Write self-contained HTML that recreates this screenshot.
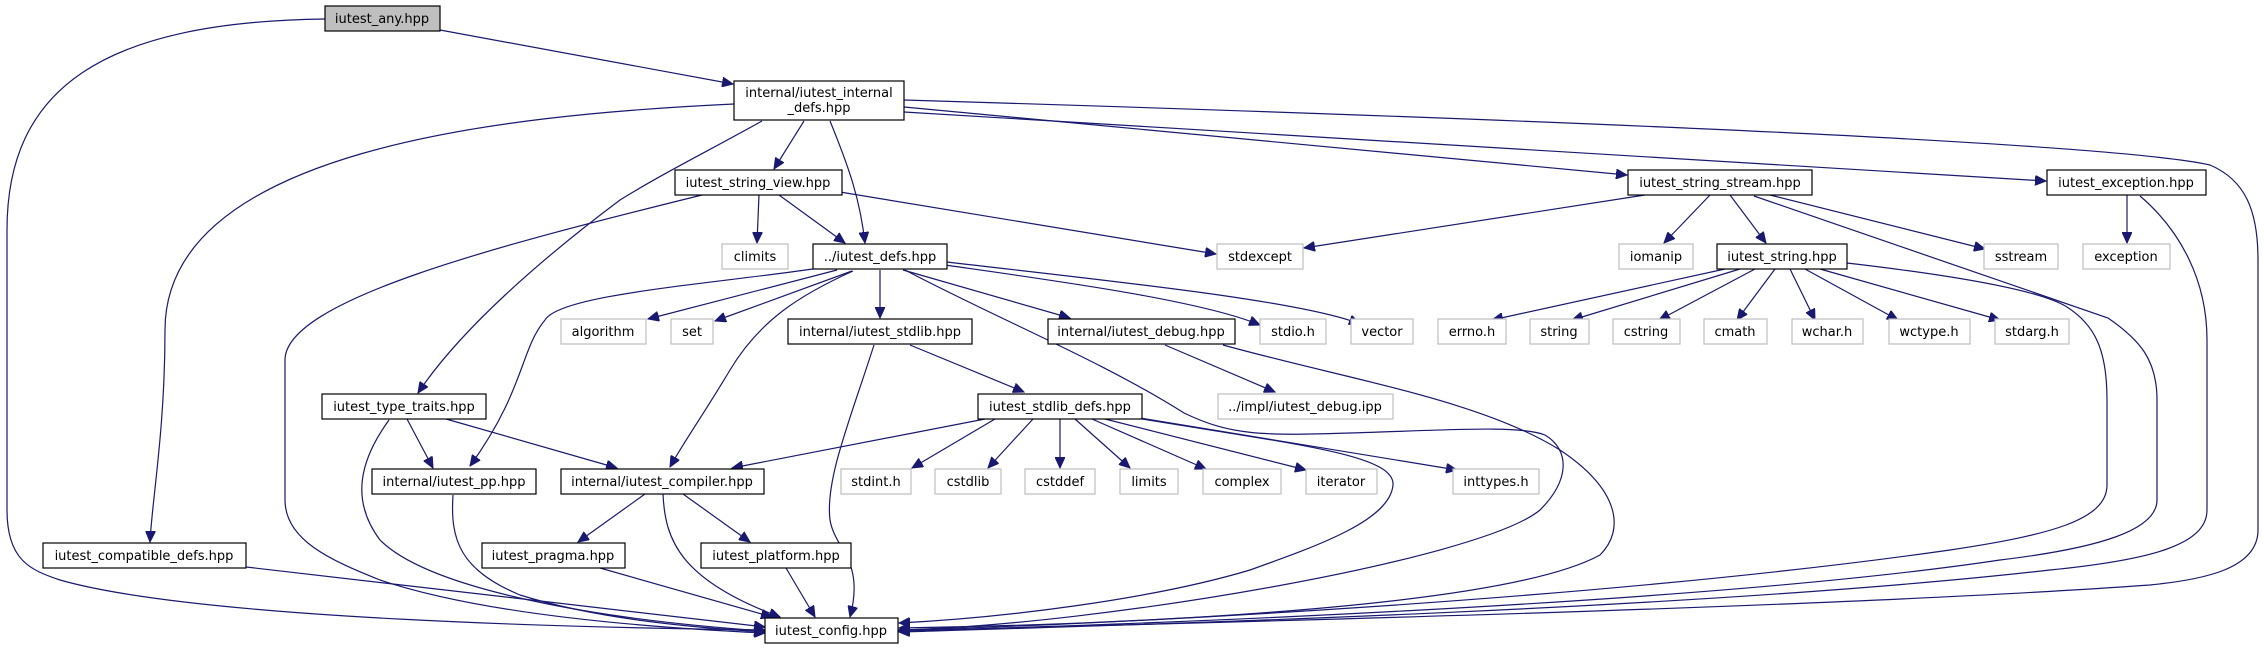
<!DOCTYPE html>
<html><head><meta charset="utf-8"><style>
html,body{margin:0;padding:0;background:#fff}
svg{display:block}
text{font-family:"DejaVu Sans","Liberation Sans",sans-serif;font-size:13px;fill:#000;text-anchor:middle}
.n{fill:#fff;stroke:#000;stroke-width:1.2}
.l{fill:#fff;stroke:#bfbfbf;stroke-width:1.2}
.e{fill:none;stroke:#191970;stroke-width:1.2;marker-end:url(#a)}
</style></head><body>
<svg width="2264" height="649" viewBox="0 0 2264 649" xmlns="http://www.w3.org/2000/svg">
<defs><marker id="a" markerUnits="userSpaceOnUse" markerWidth="12" markerHeight="10" refX="11" refY="5" orient="auto"><path d="M0,0 L11,5 L0,10 z" fill="#191970" stroke="#191970"/></marker></defs>

<!-- edges -->
<path class="e" d="M325,19 C100,22 7,90 7,230 L7,510 C7,560 30,570 60,580 C200,620 600,628 765,630"/>
<path class="e" d="M440,30 L733,84"/>
<path class="e" d="M734,104 C500,115 165,150 165,330 C165,430 152,500 150,542"/>
<path class="e" d="M762,121 C710,150 660,175 620,200 C540,260 460,330 418,393"/>
<path class="e" d="M804,121 L774,169"/>
<path class="e" d="M830,121 C850,170 860,200 865,243"/>
<path class="e" d="M904,100 C1400,115 2100,140 2210,165 C2245,180 2258,210 2258,260 L2258,530 C2258,570 2200,580 2150,585 C1800,610 1100,625 899,631"/>
<path class="e" d="M904,107 L1627,175"/>
<path class="e" d="M904,112 L2046,181"/>
<path class="e" d="M759,195 L757,243"/>
<path class="e" d="M779,195 L845,243"/>
<path class="e" d="M840,192 L1216,254"/>
<path class="e" d="M702,195 C500,245 285,300 285,360 L285,500 C285,540 330,560 380,580 C500,620 700,630 765,633"/>
<path class="e" d="M813,269 C700,285 560,295 545,320 C520,350 525,390 470,466"/>
<path class="e" d="M837,270 L648,319"/>
<path class="e" d="M852,271 L715,321"/>
<path class="e" d="M853,271 C800,295 760,320 730,370 C700,420 685,440 670,467"/>
<path class="e" d="M880,270 L880,318"/>
<path class="e" d="M903,270 L1070,318"/>
<path class="e" d="M945,265 C1050,280 1200,300 1260,325"/>
<path class="e" d="M947,262 C1100,280 1300,300 1360,324"/>
<path class="e" d="M905,270 C1000,320 1100,360 1184,413 C1230,435 1260,436 1350,433 C1450,430 1520,425 1545,435 C1570,450 1570,480 1540,510 C1480,560 1100,625 899,630"/>
<path class="e" d="M1223,345 C1350,380 1480,400 1560,450 C1620,490 1625,530 1600,555 C1500,610 1100,625 899,628"/>
<path class="e" d="M1165,345 L1275,392"/>
<path class="e" d="M910,345 L1024,392"/>
<path class="e" d="M874,345 C850,420 825,480 830,520 C835,550 865,560 850,617"/>
<path class="e" d="M985,419 L732,468"/>
<path class="e" d="M995,419 L912,468"/>
<path class="e" d="M1033,419 L988,468"/>
<path class="e" d="M1060,419 L1060,468"/>
<path class="e" d="M1075,419 L1130,468"/>
<path class="e" d="M1092,419 L1206,469"/>
<path class="e" d="M1105,419 L1306,470"/>
<path class="e" d="M1140,418 L1457,470"/>
<path class="e" d="M1142,419 C1300,445 1395,455 1393,485 C1390,520 1320,545 1250,570 C1150,600 1000,618 899,623"/>
<path class="e" d="M1645,195 L1304,248"/>
<path class="e" d="M1710,195 L1664,243"/>
<path class="e" d="M1730,195 L1766,243"/>
<path class="e" d="M1770,195 L1985,249"/>
<path class="e" d="M1754,196 L2108,318 C2140,340 2157,360 2157,400 L2157,500 C2157,530 2100,548 2000,560 C1700,605 1100,626 899,631"/>
<path class="e" d="M1847,263 C1950,275 2040,290 2067,307 C2095,325 2107,350 2107,400 L2107,485 C2107,520 2050,535 1950,550 C1600,600 1100,625 899,630"/>
<path class="e" d="M2140,196 C2180,230 2207,280 2207,340 L2207,510 C2207,545 2150,560 2050,570 C1700,610 1100,626 899,632"/>
<path class="e" d="M2127,195 L2127,243"/>
<path class="e" d="M1725,269 L1492,320"/>
<path class="e" d="M1740,269 L1572,320"/>
<path class="e" d="M1755,269 L1659,320"/>
<path class="e" d="M1775,269 L1737,320"/>
<path class="e" d="M1790,269 L1815,320"/>
<path class="e" d="M1805,269 L1898,320"/>
<path class="e" d="M1820,269 L2000,320"/>
<path class="e" d="M407,419 L433,468"/>
<path class="e" d="M446,419 L617,468"/>
<path class="e" d="M389,420 C360,460 350,500 380,540 C430,590 600,620 765,631"/>
<path class="e" d="M453,495 C450,540 460,570 520,595 C600,620 700,628 765,632"/>
<path class="e" d="M645,494 L578,542"/>
<path class="e" d="M683,494 L750,542"/>
<path class="e" d="M663,494 C665,540 680,580 780,617"/>
<path class="e" d="M246,567 L765,627"/>
<path class="e" d="M600,568 L772,617"/>
<path class="e" d="M786,568 L815,617"/>

<!-- nodes -->
<rect x="325" y="6" width="115" height="25" fill="#bfbfbf" stroke="#000" stroke-width="1.2"/><text x="382" y="23">iutest_any.hpp</text>
<rect class="n" x="734" y="81" width="170" height="39"/><text x="819" y="97">internal/iutest_internal</text><text x="819" y="112">_defs.hpp</text>
<rect class="n" x="675" y="170" width="167" height="25"/><text x="758" y="187">iutest_string_view.hpp</text>
<rect class="l" x="722" y="244" width="66" height="25"/><text x="755" y="261">climits</text>
<rect class="n" x="813" y="244" width="134" height="25"/><text x="880" y="261">../iutest_defs.hpp</text>
<rect class="l" x="561" y="319" width="85" height="25"/><text x="603" y="336">algorithm</text>
<rect class="l" x="671" y="319" width="42" height="25"/><text x="692" y="336">set</text>
<rect class="n" x="788" y="319" width="184" height="25"/><text x="880" y="336">internal/iutest_stdlib.hpp</text>
<rect class="n" x="322" y="394" width="164" height="25"/><text x="404" y="411">iutest_type_traits.hpp</text>
<rect class="n" x="372" y="469" width="164" height="25"/><text x="454" y="486">internal/iutest_pp.hpp</text>
<rect class="n" x="561" y="469" width="203" height="25"/><text x="662" y="486">internal/iutest_compiler.hpp</text>
<rect class="l" x="841" y="469" width="70" height="25"/><text x="876" y="486">stdint.h</text>
<rect class="l" x="935" y="469" width="66" height="25"/><text x="968" y="486">cstdlib</text>
<rect class="l" x="1025" y="469" width="70" height="25"/><text x="1060" y="486">cstddef</text>
<rect class="l" x="1120" y="469" width="58" height="25"/><text x="1149" y="486">limits</text>
<rect class="l" x="1203" y="469" width="78" height="25"/><text x="1242" y="486">complex</text>
<rect class="l" x="1306" y="469" width="71" height="25"/><text x="1341" y="486">iterator</text>
<rect class="l" x="1453" y="469" width="86" height="25"/><text x="1496" y="486">inttypes.h</text>
<rect class="n" x="43" y="543" width="203" height="25"/><text x="144" y="560">iutest_compatible_defs.hpp</text>
<rect class="n" x="482" y="543" width="143" height="25"/><text x="553" y="560">iutest_pragma.hpp</text>
<rect class="n" x="701" y="543" width="150" height="25"/><text x="776" y="560">iutest_platform.hpp</text>
<rect class="n" x="765" y="618" width="133" height="25"/><text x="831" y="635">iutest_config.hpp</text>
<rect class="n" x="978" y="394" width="164" height="25"/><text x="1060" y="411">iutest_stdlib_defs.hpp</text>
<rect class="l" x="1218" y="394" width="175" height="25"/><text x="1305" y="411">../impl/iutest_debug.ipp</text>
<rect class="n" x="1628" y="170" width="184" height="25"/><text x="1720" y="187">iutest_string_stream.hpp</text>
<rect class="n" x="2047" y="170" width="159" height="25"/><text x="2126" y="187">iutest_exception.hpp</text>
<rect class="l" x="1217" y="244" width="86" height="25"/><text x="1260" y="261">stdexcept</text>
<rect class="l" x="1619" y="244" width="74" height="25"/><text x="1656" y="261">iomanip</text>
<rect class="n" x="1717" y="244" width="130" height="25"/><text x="1782" y="261">iutest_string.hpp</text>
<rect class="l" x="1984" y="244" width="74" height="25"/><text x="2021" y="261">sstream</text>
<rect class="l" x="2083" y="244" width="87" height="25"/><text x="2126" y="261">exception</text>
<rect class="n" x="1048" y="319" width="187" height="25"/><text x="1141" y="336">internal/iutest_debug.hpp</text>
<rect class="l" x="1260" y="319" width="66" height="25"/><text x="1293" y="336">stdio.h</text>
<rect class="l" x="1351" y="319" width="62" height="25"/><text x="1382" y="336">vector</text>
<rect class="l" x="1438" y="319" width="68" height="25"/><text x="1472" y="336">errno.h</text>
<rect class="l" x="1530" y="319" width="59" height="25"/><text x="1559" y="336">string</text>
<rect class="l" x="1613" y="319" width="67" height="25"/><text x="1646" y="336">cstring</text>
<rect class="l" x="1704" y="319" width="63" height="25"/><text x="1735" y="336">cmath</text>
<rect class="l" x="1792" y="319" width="71" height="25"/><text x="1827" y="336">wchar.h</text>
<rect class="l" x="1889" y="319" width="81" height="25"/><text x="1929" y="336">wctype.h</text>
<rect class="l" x="1995" y="319" width="74" height="25"/><text x="2032" y="336">stdarg.h</text>
</svg>
</body></html>
